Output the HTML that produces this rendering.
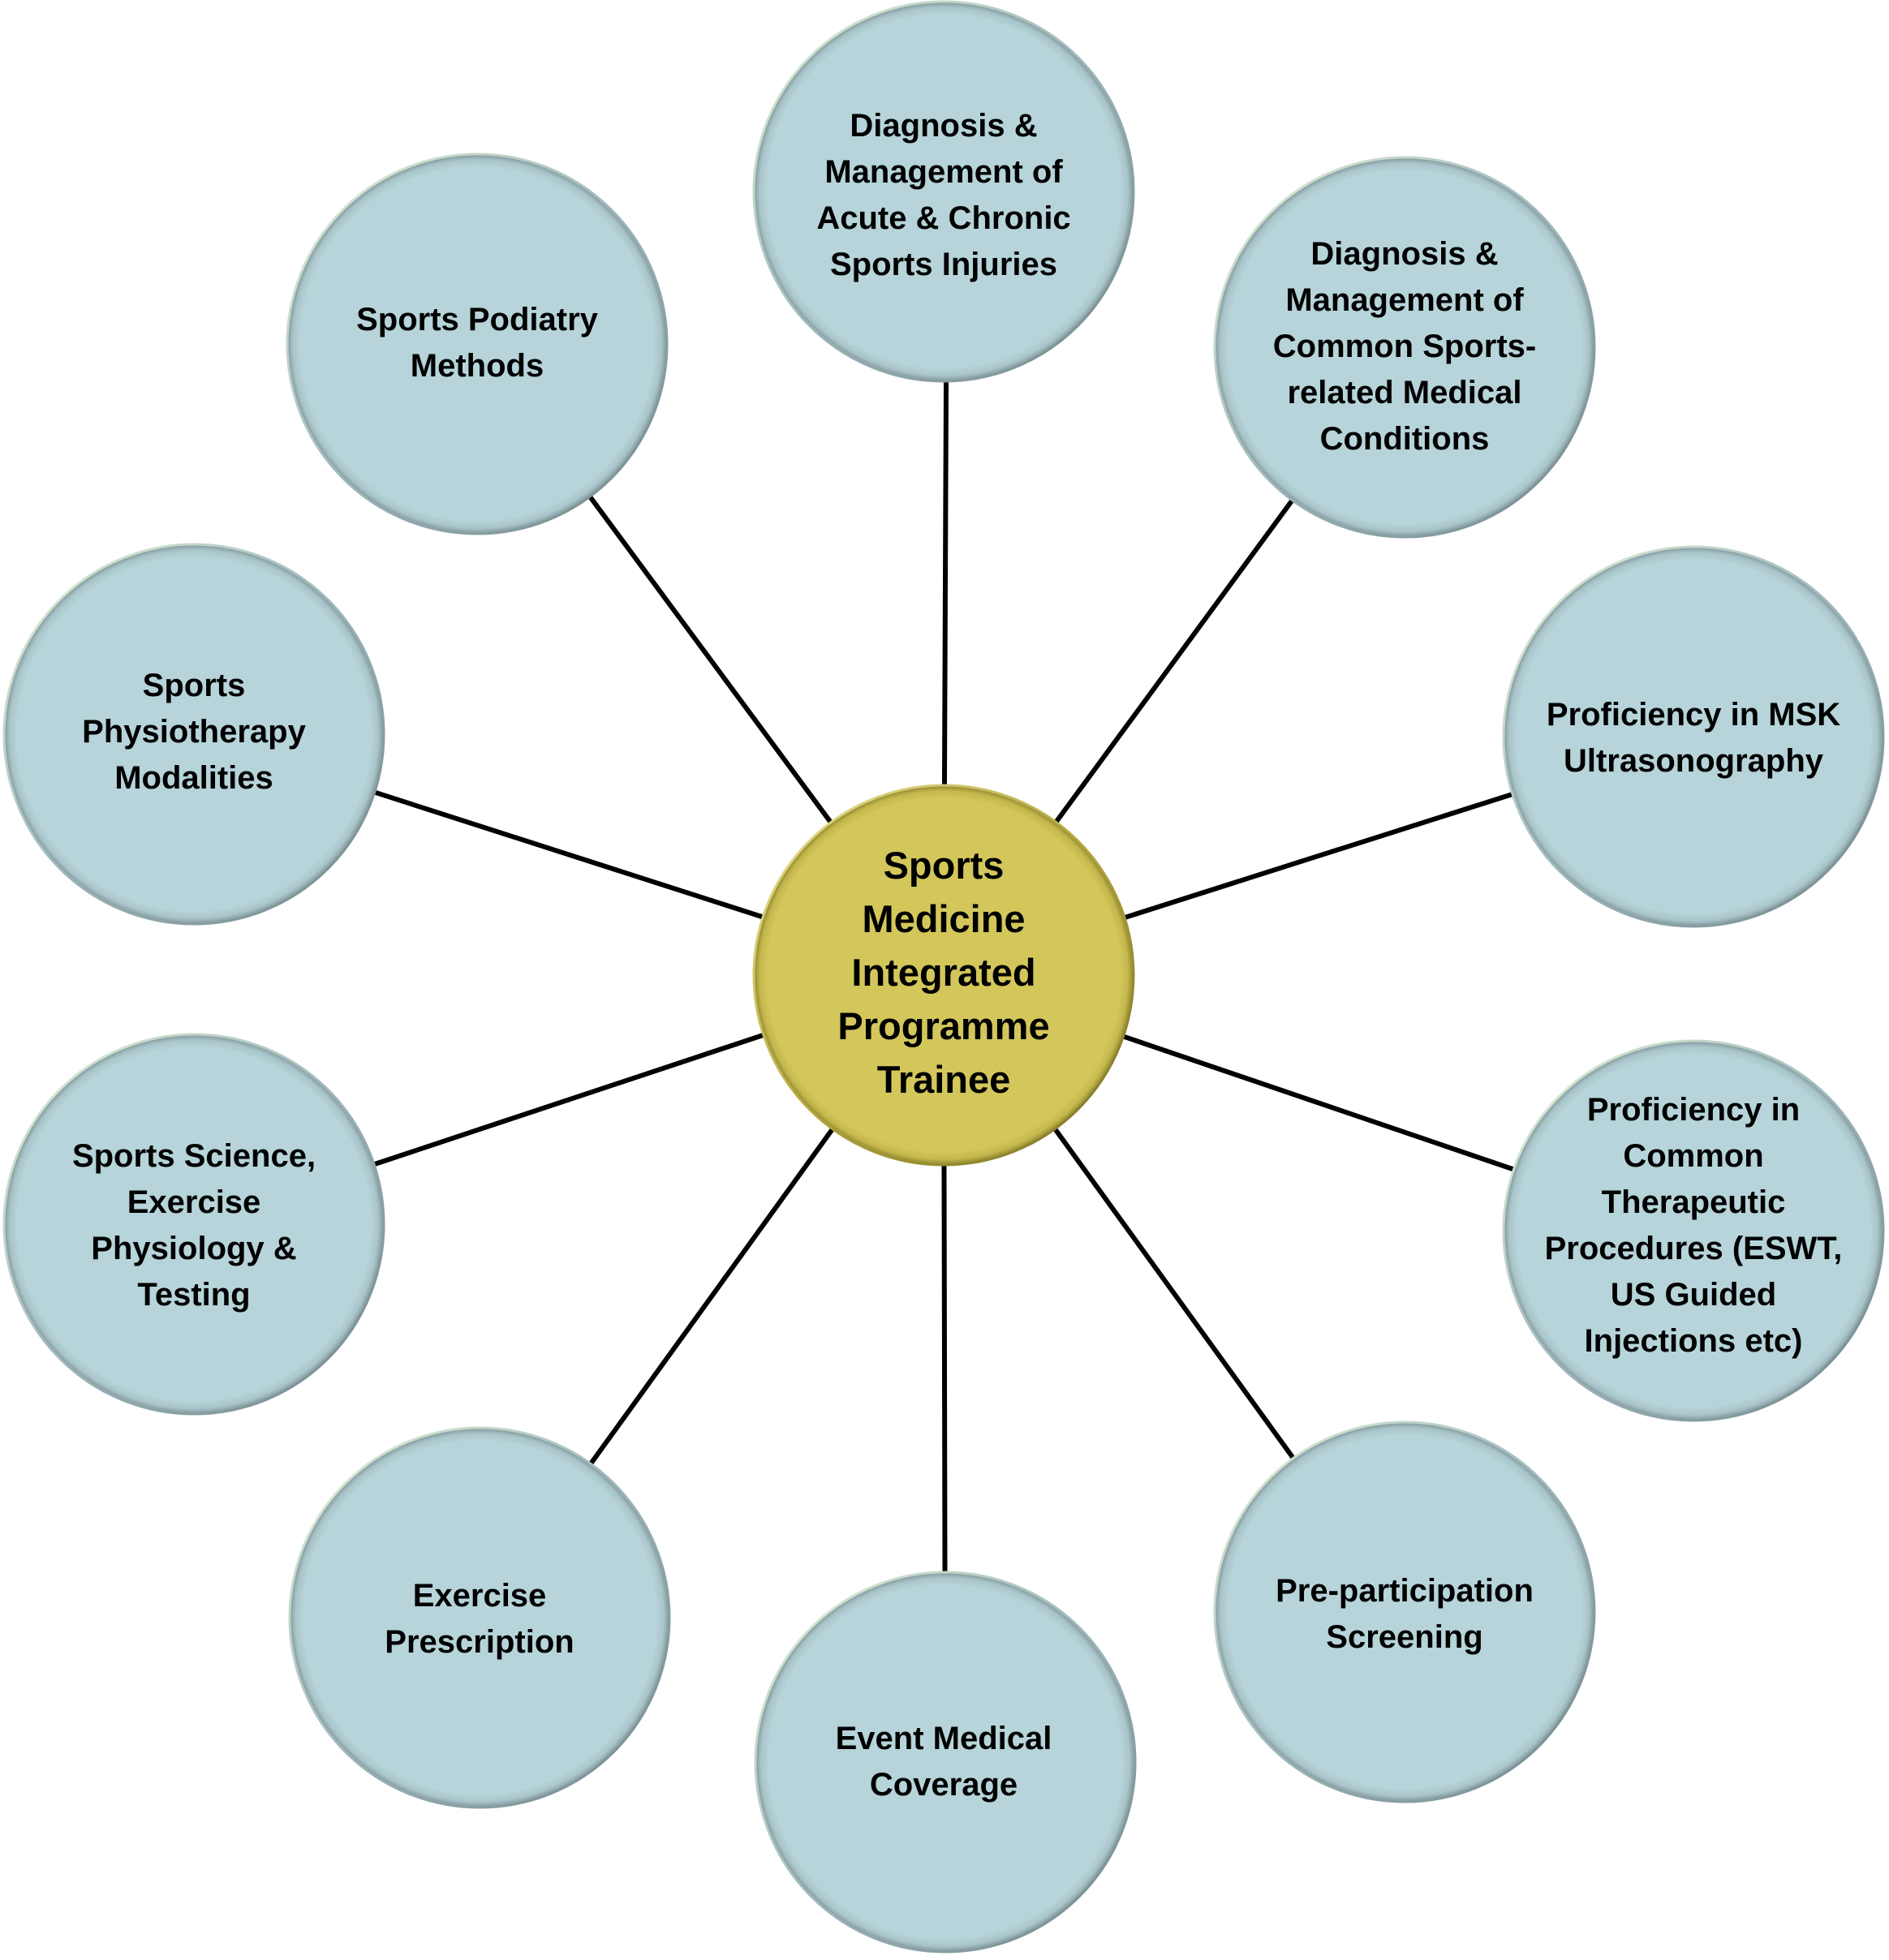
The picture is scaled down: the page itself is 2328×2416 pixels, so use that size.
<!DOCTYPE html>
<html><head><meta charset="utf-8"><style>html,body{margin:0;padding:0;background:#fff}svg{display:block}</style></head>
<body>
<svg width="2328" height="2416" viewBox="0 0 2328 2416" xmlns="http://www.w3.org/2000/svg" font-family="'Liberation Sans', sans-serif" font-weight="bold">
<defs>
<radialGradient id="b" cx="50%" cy="50%" r="50%">
<stop offset="0.93" stop-color="#b6d4d9"/><stop offset="0.97" stop-color="#a9c5ca"/><stop offset="1" stop-color="#7f9599"/>
</radialGradient>
<linearGradient id="hl" x1="0" y1="0" x2="1" y2="1"><stop offset="0" stop-color="#e4f3d4"/><stop offset="0.5" stop-color="#9fb8bd"/><stop offset="1" stop-color="#6f8588"/></linearGradient>
<radialGradient id="y" cx="50%" cy="50%" r="50%">
<stop offset="0.93" stop-color="#d3c75b"/><stop offset="0.97" stop-color="#c4b84c"/><stop offset="1" stop-color="#8e8430"/>
</radialGradient>
<linearGradient id="yl" x1="0" y1="0" x2="1" y2="1"><stop offset="0" stop-color="#eee69a"/><stop offset="0.5" stop-color="#b4a83e"/><stop offset="1" stop-color="#7a7020"/></linearGradient>
</defs>
<g stroke="#000" stroke-width="6">
<line x1="1163" y1="1202" x2="1167" y2="236"/>
<line x1="1163" y1="1202" x2="1731" y2="428"/>
<line x1="1163" y1="1202" x2="2087" y2="908"/>
<line x1="1163" y1="1202" x2="2087" y2="1517"/>
<line x1="1163" y1="1202" x2="1731" y2="1987"/>
<line x1="1163" y1="1202" x2="1165" y2="2172"/>
<line x1="1163" y1="1202" x2="591" y2="1994"/>
<line x1="1163" y1="1202" x2="239" y2="1509"/>
<line x1="1163" y1="1202" x2="239" y2="905"/>
<line x1="1163" y1="1202" x2="588" y2="424"/>
</g>
<g stroke="url(#hl)" stroke-width="3" fill="url(#b)">
<circle cx="1163" cy="236" r="234"/>
<circle cx="1731" cy="428" r="234"/>
<circle cx="2087" cy="908" r="234"/>
<circle cx="2087" cy="1517" r="234"/>
<circle cx="1731" cy="1987" r="234"/>
<circle cx="1165" cy="2172" r="234"/>
<circle cx="591" cy="1994" r="234"/>
<circle cx="239" cy="1509" r="234"/>
<circle cx="239" cy="905" r="234"/>
<circle cx="588" cy="424" r="234"/>
</g>
<circle cx="1163" cy="1202" r="234" fill="url(#y)" stroke="url(#yl)" stroke-width="3"/>
<g font-size="40" text-anchor="middle" fill="#000">
<text x="1163" y="168">Diagnosis &amp;</text>
<text x="1163" y="225">Management of</text>
<text x="1163" y="282">Acute &amp; Chronic</text>
<text x="1163" y="339">Sports Injuries</text>

<text x="1731" y="326">Diagnosis &amp;</text>
<text x="1731" y="383">Management of</text>
<text x="1731" y="440">Common Sports-</text>
<text x="1731" y="497">related Medical</text>
<text x="1731" y="554">Conditions</text>

<text x="2087" y="894">Proficiency in MSK</text>
<text x="2087" y="951">Ultrasonography</text>

<text x="2087" y="1381">Proficiency in</text>
<text x="2087" y="1438">Common</text>
<text x="2087" y="1495">Therapeutic</text>
<text x="2087" y="1552">Procedures (ESWT,</text>
<text x="2087" y="1609">US Guided</text>
<text x="2087" y="1666">Injections etc)</text>

<text x="1731" y="1974">Pre-participation</text>
<text x="1731" y="2031">Screening</text>

<text x="1163" y="2156">Event Medical</text>
<text x="1163" y="2213">Coverage</text>

<text x="591" y="1980">Exercise</text>
<text x="591" y="2037">Prescription</text>

<text x="239" y="1438">Sports Science,</text>
<text x="239" y="1495">Exercise</text>
<text x="239" y="1552">Physiology &amp;</text>
<text x="239" y="1609">Testing</text>

<text x="239" y="858">Sports</text>
<text x="239" y="915">Physiotherapy</text>
<text x="239" y="972">Modalities</text>

<text x="588" y="407">Sports Podiatry</text>
<text x="588" y="464">Methods</text>
</g>
<g font-size="47" text-anchor="middle" fill="#000">
<text x="1163" y="1083">Sports</text>
<text x="1163" y="1149">Medicine</text>
<text x="1163" y="1215">Integrated</text>
<text x="1163" y="1281">Programme</text>
<text x="1163" y="1347">Trainee</text>
</g>
</svg>
</body></html>
